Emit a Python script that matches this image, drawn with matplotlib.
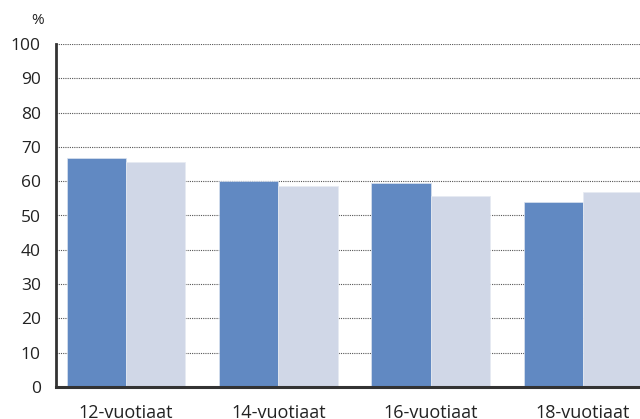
import matplotlib
matplotlib.use("Agg")
import matplotlib.pyplot as plt
import numpy as np

categories = ["12-vuotiaat", "14-vuotiaat", "16-vuotiaat", "18-vuotiaat"]
series_a = [66.8, 60.2, 59.4, 54.0]
series_b = [65.5, 58.6, 55.7, 56.9]
yticks = [0, 10, 20, 30, 40, 50, 60, 70, 80, 90, 100]

plt.rcParams['font.family'] = ['Open Sans', 'DejaVu Sans']

fig = plt.figure(figsize=(6.4, 4.19), dpi=100)
ax = fig.add_axes([56/640, 32/419, 1 - 56/640, (387-44)/419])

x = np.arange(len(categories))
w = 0.39
ax.bar(x - w/2, series_a, width=w, color="#6189c2", zorder=3, edgecolor="#dbe3ef", linewidth=0.5)
ax.bar(x + w/2, series_b, width=w, color="#d0d7e7", zorder=3, edgecolor="#e6eaf2", linewidth=0.5)

ax.set_xlim(-0.46, 3.375)
ax.set_ylim(0, 100)
ax.set_yticks(yticks)
ax.set_yticklabels([str(t) for t in yticks], fontsize=12.5, color="#222222")
ax.set_xticks(x)
ax.set_xticklabels(categories, fontsize=13, color="#222222")
ax.tick_params(axis='both', length=0)
ax.tick_params(axis='y', pad=11)
ax.tick_params(axis='x', pad=12)

for t in yticks[1:]:
    ax.axhline(t, color="#555555", linestyle=(0, (1, 1)), linewidth=0.8, zorder=1)

for s in ["top", "right"]:
    ax.spines[s].set_visible(False)
ax.spines["left"].set_linewidth(2)
ax.spines["left"].set_color("#333333")
ax.spines["bottom"].set_linewidth(2.2)
ax.spines["bottom"].set_color("#333333")
ax.spines["bottom"].set_zorder(4)

fig.text(38/640, 1 - 20/419, "%", fontsize=11, ha="center", va="center", color="#222222")

fig.savefig("out.png", dpi=100)
